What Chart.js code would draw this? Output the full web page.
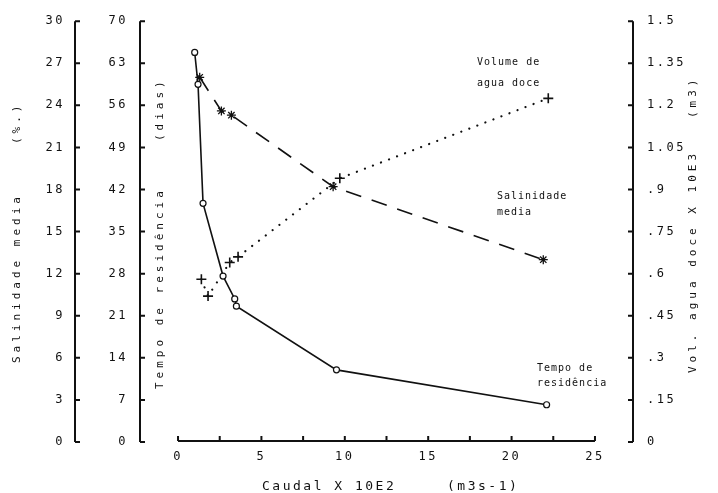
<!DOCTYPE html>
<html>
<head>
<meta charset="utf-8">
<script src="https://cdn.jsdelivr.net/npm/chart.js@4.4.1/dist/chart.umd.min.js"></script>
<style>
  body { margin: 0; background: #fff; }
</style>
</head>
<body>
<canvas id="myChart" width="718" height="493"></canvas>
<script>
var caudalTempo = [1.0, 1.2, 1.5, 2.7, 3.4, 3.5, 9.5, 22.1];
var tempoResidencia = [64.8, 59.5, 39.7, 27.6, 23.8, 22.6, 12.0, 6.2];

var caudalSal = [1.3, 2.6, 3.2, 9.3, 21.9];
var salinidade = [26.0, 23.6, 23.3, 18.2, 13.0];

var caudalVol = [1.4, 1.8, 3.1, 3.6, 9.7, 22.2];
var volumeAgua = [0.58, 0.52, 0.64, 0.66, 0.94, 1.225];

var xTicks = [0, 5, 10, 15, 20, 25];
var xMinor = [0, 2.5, 5, 7.5, 10, 12.5, 15, 17.5, 20, 22.5, 25];
var salTicks = [0, 3, 6, 9, 12, 15, 18, 21, 24, 27, 30];
var tempoTicks = [0, 7, 14, 21, 28, 35, 42, 49, 56, 63, 70];
var volTicks = [0, 0.15, 0.3, 0.45, 0.6, 0.75, 0.9, 1.05, 1.2, 1.35, 1.5];
var volLabels = ["0", ".15", ".3", ".45", ".6", ".75", ".9", "1.05", "1.2", "1.35", "1.5"];

var MONO = '"DejaVu Sans Mono", "Liberation Mono", monospace';
var INK = '#111';

function pares(xs, ys) {
  return xs.map(function (x, i) { return { x: x, y: ys[i] }; });
}

function vertical(ctx, txt, x, y) {
  ctx.save();
  ctx.translate(x, y);
  ctx.rotate(-Math.PI / 2);
  ctx.fillText(txt, 0, 0);
  ctx.restore();
}

var eixos = {
  id: 'eixos',
  beforeDraw: function (chart) {
    chart.ctx.letterSpacing = '2.5px';
  },
  afterDraw: function (chart) {
    var ctx = chart.ctx, s = chart.scales, a = chart.chartArea;
    ctx.save();
    ctx.strokeStyle = INK;
    ctx.lineWidth = 2;

    // eixos verticais com marcas para dentro
    [[s.ySal, s.ySal.right, 1, salTicks],
     [s.yT, s.yT.right, 1, tempoTicks],
     [s.yV, s.yV.left, -1, volTicks]].forEach(function (e) {
      var sc = e[0], x = e[1], d = e[2], t = e[3];
      ctx.beginPath();
      ctx.moveTo(x, sc.getPixelForValue(t[0]));
      ctx.lineTo(x, sc.getPixelForValue(t[t.length - 1]));
      t.forEach(function (v) {
        var y = sc.getPixelForValue(v);
        ctx.moveTo(x, y);
        ctx.lineTo(x + 5 * d, y);
      });
      ctx.stroke();
    });

    // eixo x
    var yb = a.bottom - 1;
    ctx.beginPath();
    ctx.moveTo(s.x.getPixelForValue(0), yb);
    ctx.lineTo(s.x.getPixelForValue(25), yb);
    xMinor.forEach(function (v) {
      var x = s.x.getPixelForValue(v);
      ctx.moveTo(x, yb);
      ctx.lineTo(x, yb - 5);
    });
    ctx.stroke();

    // titulos
    ctx.fillStyle = INK;
    ctx.textBaseline = 'middle';
    ctx.textAlign = 'left';
    ctx.font = '11px ' + MONO;
    ctx.letterSpacing = '4px';
    vertical(ctx, 'Salinidade media', 17, 363);
    vertical(ctx, '(%.)', 17, 144);
    vertical(ctx, 'Tempo de residência', 160, 389);
    vertical(ctx, '(dias)', 160, 141);
    vertical(ctx, 'Vol. agua doce X 10E3', 693, 373);
    vertical(ctx, '(m3)', 693, 118);

    ctx.font = '13px ' + MONO;
    ctx.letterSpacing = '2.5px';
    ctx.fillText('Caudal X 10E2', 262, 487);
    ctx.fillText('(m3s-1)', 447, 487);

    // rotulos das curvas
    ctx.font = '10px ' + MONO;
    ctx.letterSpacing = '1px';
    ctx.fillText('Volume de', 477, 62);
    ctx.fillText('agua doce', 477, 83);
    ctx.fillText('Salinidade', 497, 196);
    ctx.fillText('media', 497, 212);
    ctx.fillText('Tempo de', 537, 368);
    ctx.fillText('residência', 537, 383);
    ctx.restore();
  }
};

var eixoY = function (ticks, largura, pad) {
  return {
    min: ticks[0],
    max: ticks[ticks.length - 1],
    grid: { display: false, drawTicks: false },
    border: { display: false },
    afterFit: function (sc) { sc.width = largura; },
    afterBuildTicks: function (sc) {
      sc.ticks = ticks.map(function (v) { return { value: v }; });
    },
    ticks: {
      padding: pad,
      color: INK,
      font: { family: MONO, size: 12 }
    }
  };
};

var yT = eixoY(tempoTicks, 65, 12);
yT.position = 'left';
var ySal = eixoY(salTicks, 75, 10);
ySal.position = 'left';
var yV = eixoY(volTicks, 85, 14);
yV.position = 'right';
yV.ticks.callback = function (v, i) { return volLabels[i]; };

new Chart('myChart', {
  type: 'scatter',
  data: {
    datasets: [{
      label: 'Tempo de residência',
      data: pares(caudalTempo, tempoResidencia),
      yAxisID: 'yT',
      showLine: true,
      borderColor: INK,
      borderWidth: 1.6,
      pointStyle: 'circle',
      pointRadius: 3,
      pointBorderWidth: 1.2,
      pointBorderColor: INK,
      pointBackgroundColor: '#fff'
    }, {
      label: 'Salinidade media',
      data: pares(caudalSal, salinidade),
      yAxisID: 'ySal',
      showLine: true,
      borderColor: INK,
      borderWidth: 1.6,
      borderDash: [16, 11],
      pointStyle: 'star',
      pointRadius: 4.5,
      pointBorderWidth: 1.3,
      pointBorderColor: INK
    }, {
      label: 'Volume de agua doce',
      data: pares(caudalVol, volumeAgua),
      yAxisID: 'yV',
      showLine: true,
      borderColor: INK,
      borderWidth: 2.2,
      borderCapStyle: 'round',
      borderDash: [0.1, 8.5],
      pointStyle: 'cross',
      pointRadius: 5,
      pointBorderWidth: 1.6,
      pointBorderColor: INK
    }]
  },
  options: {
    responsive: false,
    animation: false,
    devicePixelRatio: 1,
    clip: false,
    layout: { padding: { top: 19, left: 0, right: 0, bottom: 0 } },
    plugins: { legend: { display: false }, tooltip: { enabled: false } },
    scales: {
      x: {
        type: 'linear',
        position: 'bottom',
        min: -2.28,
        max: 27.28,
        grid: { display: false, drawTicks: false },
        border: { display: false },
        afterFit: function (sc) { sc.height = 51; },
        afterBuildTicks: function (sc) {
          sc.ticks = xTicks.map(function (v) { return { value: v }; });
        },
        ticks: {
          padding: 8,
          maxRotation: 0,
          autoSkip: false,
          color: INK,
          font: { family: MONO, size: 12 }
        }
      },
      yT: yT,
      ySal: ySal,
      yV: yV
    }
  },
  plugins: [eixos]
});
</script>
</body>
</html>
